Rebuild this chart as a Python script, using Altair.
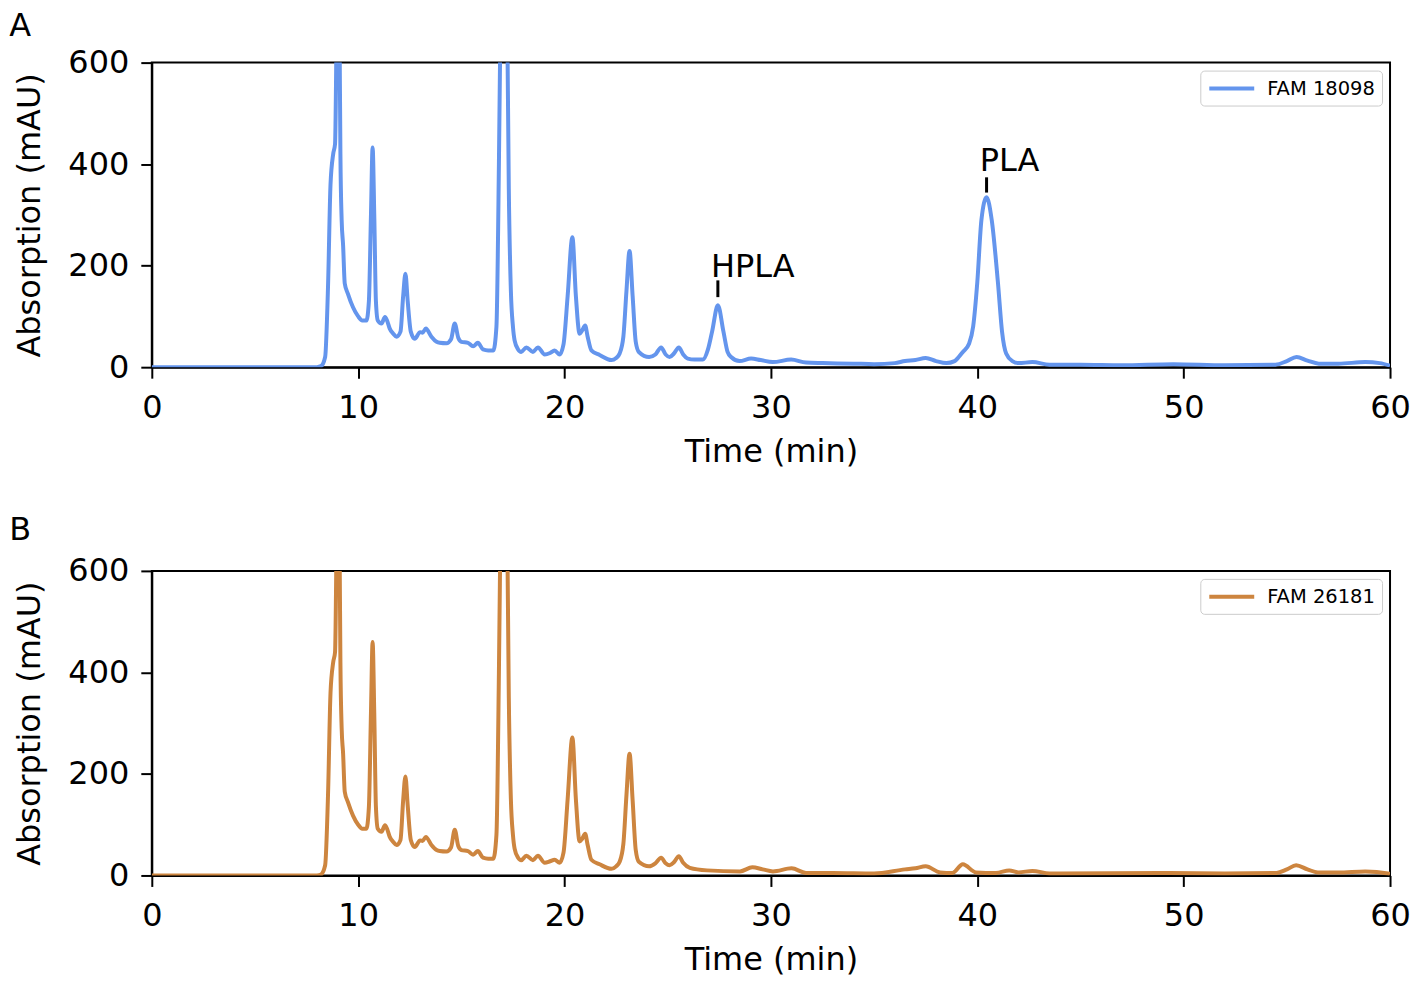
import altair as alt
import pandas as pd

FONT = "DejaVu Sans"

# ---------------- data ----------------
x_ticks = [0, 10, 20, 30, 40, 50, 60]
y_ticks = [0, 200, 400, 600]

series_a = "FAM 18098"
color_a = "#6495ED"
time_a = [0, 8.0, 8.2, 8.4, 8.54, 8.66, 8.79, 8.88, 8.95, 9.03, 9.1, 9.14, 9.2, 9.27, 9.35, 9.5, 9.75,
          10.0, 10.2, 10.4, 10.52, 10.62, 10.7, 10.78, 10.86, 10.95, 11.13, 11.3, 11.4, 11.53, 11.7, 11.86,
          12.05, 12.18, 12.29, 12.4, 12.55, 12.74, 13.0, 13.12, 13.28, 13.55, 13.8, 13.95, 14.28, 14.5, 14.68,
          14.85, 15.0, 15.32, 15.57, 15.8, 16.05, 16.3, 16.55, 16.7, 16.82, 16.9, 17.05, 17.22, 17.3, 17.4,
          17.5, 17.58, 17.75, 17.9, 18.15, 18.47, 18.71, 19.04, 19.3, 19.52, 19.76, 19.95, 20.15, 20.38,
          20.55, 20.73, 20.85, 21.0, 21.12, 21.3, 21.7, 22.27, 22.5, 22.67, 22.85, 23.0, 23.15, 23.3, 23.45,
          23.6, 24.1, 24.4, 24.68, 24.9, 25.09, 25.3, 25.54, 25.75, 25.97, 26.3, 26.7, 26.95, 27.15, 27.43,
          27.7, 27.9, 28.07, 28.48, 29.04, 29.5, 30.09, 30.98, 31.7, 32.5, 34.0, 35.0, 36.0, 36.5, 37.0, 37.5,
          38.0, 38.5, 38.9, 39.1, 39.3, 39.6, 39.8, 40.0, 40.2, 40.45, 40.7, 41.0, 41.2, 41.4, 41.7, 42.0,
          42.67, 43.5, 45.0, 47.0, 49.5, 52.0, 54.45, 55.0, 55.47, 56.0, 56.55, 57.5, 58.8, 59.5, 60.0]
abs_a = [0, 0, 2, 20, 160, 360, 420, 440, 650, 1000, 650, 420, 290, 240, 165, 145, 118,
         100, 92, 92, 130, 300, 433, 300, 130, 92, 86, 99, 92, 76, 66, 60,
         70, 140, 184, 130, 70, 56, 69, 68, 76, 60, 50, 48, 47, 55, 86,
         58, 50, 48, 41, 48, 35, 33, 33, 80, 400, 700, 1200, 700, 350, 150,
         80, 53, 35, 30, 39, 30, 39, 25, 28, 33, 25, 45, 140, 256,
         140, 66, 72, 82, 60, 33, 24, 14, 18, 27, 60, 150, 229, 140, 50,
         30, 20, 25, 39, 25, 20, 27, 39, 25, 17, 15, 15, 35, 70, 122,
         70, 30, 20, 12, 17, 14, 10, 15, 9, 8, 7, 6, 8, 12, 14, 18,
         12, 8, 12, 20, 30, 46, 80, 167, 290, 335, 290, 167, 70, 27, 12, 8,
         10, 5, 5, 4, 6, 4, 5, 12, 20, 13, 7, 7, 10, 8, 3]

series_b = "FAM 26181"
color_b = "#CD853F"
time_b = [0, 8.0, 8.2, 8.4, 8.54, 8.66, 8.79, 8.88, 8.95, 9.03, 9.1, 9.14, 9.2, 9.27, 9.35, 9.5, 9.75,
          10.0, 10.2, 10.4, 10.52, 10.62, 10.7, 10.78, 10.86, 10.95, 11.13, 11.3, 11.4, 11.53, 11.7, 11.86,
          12.05, 12.18, 12.29, 12.4, 12.55, 12.74, 13.0, 13.12, 13.28, 13.55, 13.8, 13.95, 14.28, 14.5, 14.68,
          14.85, 15.0, 15.32, 15.57, 15.8, 16.05, 16.3, 16.55, 16.7, 16.82, 16.9, 17.05, 17.22, 17.3, 17.4,
          17.5, 17.58, 17.75, 17.9, 18.15, 18.47, 18.71, 19.04, 19.3, 19.52, 19.76, 19.95, 20.15, 20.38,
          20.55, 20.73, 20.85, 21.0, 21.12, 21.3, 21.7, 22.27, 22.5, 22.67, 22.85, 23.0, 23.15, 23.3, 23.45,
          23.6, 24.1, 24.4, 24.68, 24.9, 25.09, 25.3, 25.54, 25.75, 26.07, 26.9, 28.5, 29.1, 29.6, 30.1,
          31.0, 31.7, 33.0, 35.0, 36.5, 37.0, 37.5, 38.2, 38.8, 39.3, 39.94, 40.9, 41.55, 42.0, 42.67,
          43.5, 49.3, 52.0, 54.5, 55.0, 55.45, 56.0, 56.5, 57.5, 58.8, 59.9, 60.0]
abs_b = [0, 0, 2, 20, 160, 360, 420, 440, 650, 1000, 650, 420, 290, 240, 165, 145, 118,
         100, 92, 92, 135, 320, 460, 320, 135, 92, 86, 99, 92, 76, 66, 60,
         70, 148, 195, 138, 70, 56, 69, 68, 76, 60, 50, 48, 47, 55, 90,
         58, 50, 48, 41, 48, 35, 33, 33, 80, 400, 700, 1200, 700, 350, 150,
         80, 53, 35, 30, 39, 30, 39, 25, 28, 31, 25, 45, 150, 272,
         150, 67, 72, 82, 60, 31, 22, 13, 18, 27, 62, 158, 240, 148, 50,
         27, 18, 24, 35, 24, 20, 26, 38, 25, 15, 10, 8, 16, 12, 8,
         14, 5, 5, 4, 12, 14, 18, 6, 5, 22, 6, 5, 10, 6, 9,
         4, 5, 4, 5, 12, 20, 12, 6, 6, 8, 4, 3]

ann_label = ["HPLA", "PLA"]
ann_peak_t = [27.43, 40.45]
ann_text_t = [27.1, 40.12]
ann_text_v = [177, 387]
ann_tick_lo = [138, 344]
ann_tick_hi = [171, 374]

W, H = 1240, 305


def panel(t, v, name, color, letter, letter_y, with_ann=False):
    df = pd.DataFrame({"t": t, "v": v, "series": [name] * len(t)})
    x = alt.X("t:Q", scale=alt.Scale(domain=[0, 60], nice=False, zero=False),
              axis=alt.Axis(values=x_ticks, title="Time (min)", format="d", labelFlush=False))
    y = alt.Y("v:Q", scale=alt.Scale(domain=[0, 600], nice=False),
              axis=alt.Axis(values=y_ticks, title="Absorption (mAU)", format="d", labelFlush=False))
    line = alt.Chart(df).mark_line(clip=True, strokeWidth=4, interpolate="monotone").encode(
        x=x, y=y,
        color=alt.Color("series:N", scale=alt.Scale(domain=[name], range=[color]),
                        legend=alt.Legend(title=None, orient="top-right", offset=8,
                                          symbolType="M-1,0H4", symbolSize=324, symbolStrokeWidth=4,
                                          labelFontSize=19.5, labelFont=FONT, labelColor="black",
                                          strokeColor="#cccccc", cornerRadius=4, padding=7,
                                          labelOffset=38, fillColor="white")),
    )
    letter_df = pd.DataFrame({"label": [letter]})
    lt = alt.Chart(letter_df).mark_text(align="left", baseline="alphabetic", fontSize=32,
                                        font=FONT, color="black").encode(
        text="label:N", x=alt.value(-142.7), y=alt.value(letter_y))
    layers = [line, lt]
    if with_ann:
        adf = pd.DataFrame({"label": ann_label, "t": ann_text_t, "v": ann_text_v})
        tdf = pd.DataFrame({"t": ann_peak_t, "v": ann_tick_lo, "v2": ann_tick_hi})
        txt = alt.Chart(adf).mark_text(align="left", baseline="alphabetic", fontSize=32,
                                       font=FONT, color="black").encode(
            x="t:Q", y="v:Q", text="label:N")
        ticks = alt.Chart(tdf).mark_rule(color="black", strokeWidth=3).encode(
            x="t:Q", y="v:Q", y2="v2:Q")
        layers += [ticks, txt]
    return alt.layer(*layers).properties(width=W, height=H)


pA = panel(time_a, abs_a, series_a, color_a, "A", -27, with_ann=True)
pB = panel(time_b, abs_b, series_b, color_b, "B", -31)

chart = (
    alt.vconcat(pA, pB, spacing=204, bounds="flush")
    .resolve_scale(color="independent")
    .resolve_legend(color="independent")
    .properties(padding={"left": 0, "top": 0, "right": -2, "bottom": 5},
                background="white")
    .configure_view(stroke="black", strokeWidth=2)
    .configure_axis(domainColor="black", domainWidth=2, tickColor="black", tickWidth=2,
                    tickSize=11, labelFont=FONT, labelFontSize=32, labelColor="black",
                    titleFont=FONT, titleFontSize=32, titleFontWeight="normal",
                    titleColor="black", grid=False)
    .configure_axisX(labelPadding=14, titlePadding=13)
    .configure_axisY(labelPadding=12, titlePadding=21)
)

chart.save("out.html", embed_options={"renderer": "svg", "actions": False})
